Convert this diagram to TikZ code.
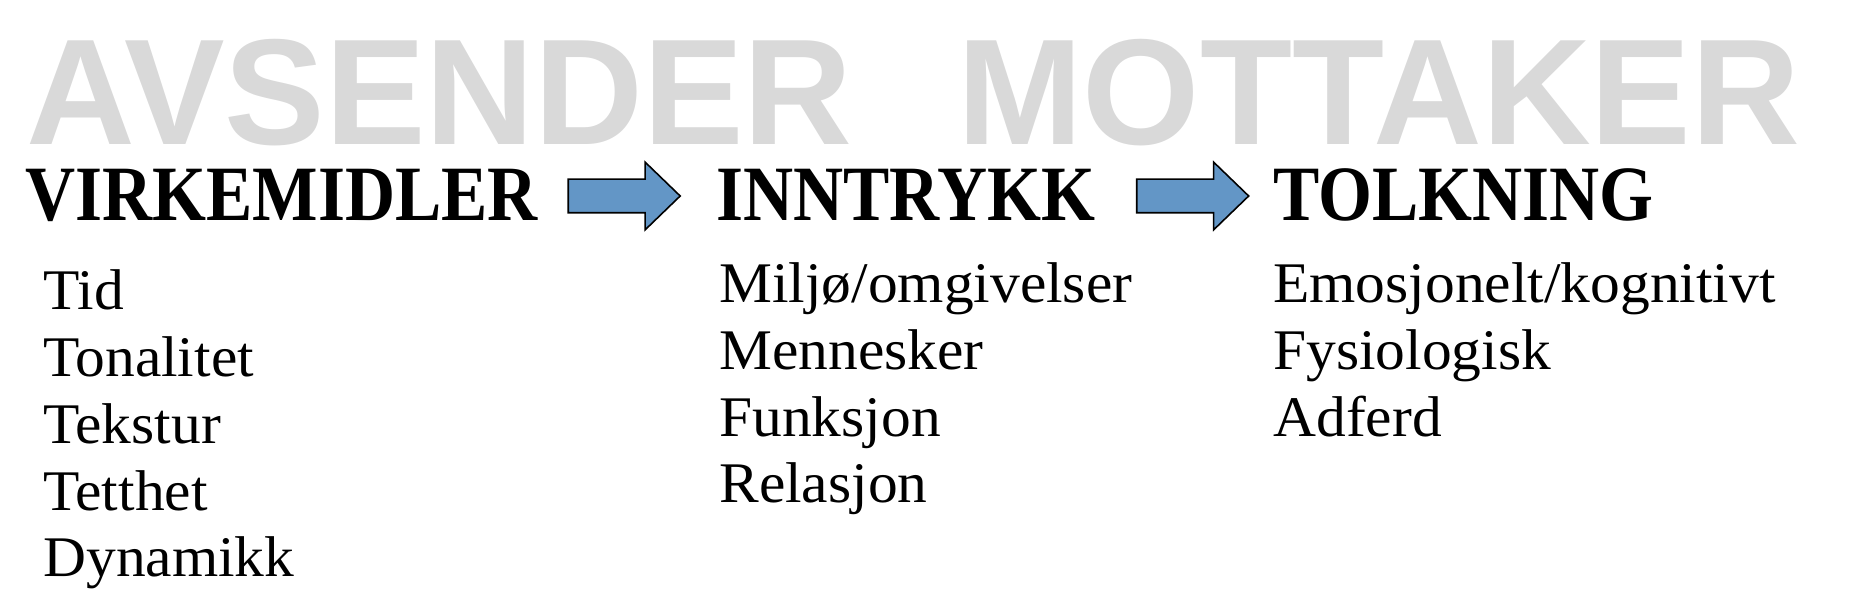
\documentclass[tikz,border=0pt]{standalone}
\usepackage{fontspec}
\usepackage{tikz}
\usepackage{xcolor}
\usetikzlibrary{
    shapes.arrows,
    positioning,
    calc
}
\setmainfont{Liberation Serif}
\newfontfamily\backdropfamily{Liberation Sans}
\newfontfamily\headingfamily[FakeStretch=0.885]{Liberation Serif}
\newfontfamily\itemfamily[FakeStretch=1.035]{Liberation Serif}
\definecolor{backgray}{HTML}{D9D9D9}
\definecolor{arrowblue}{HTML}{6396C6}
\tikzset{
    % Big grey words behind the chain
    backdrop/.style={
        anchor=base west,
        inner sep=0pt,
        text depth=0pt,
        font=\backdropfamily\bfseries\fontsize{85.8}{90}\selectfont,
        text=backgray
    },
    % Stage headings
    heading/.style={
        anchor=base west,
        inner sep=0pt,
        text height=1.04cm,
        text depth=0pt,
        font=\headingfamily\bfseries\fontsize{44.6}{48}\selectfont,
        text=black
    },
    % List entries under each stage
    entry/.style={
        anchor=base west,
        inner sep=0pt,
        font=\itemfamily\fontsize{32.7}{36}\selectfont,
        text=black
    },
    % Block arrow between stages
    stagearrow/.style={
        single arrow,
        draw=black,
        fill=arrowblue,
        line width=0.9pt,
        minimum height=2.24cm,
        inner xsep=0pt,
        inner ysep=0.32cm,
        single arrow head extend=0.34cm,
        single arrow tip angle=88
    }
}
\begin{document}
\begin{tikzpicture}[x=0.02cm, y=-0.02cm]
        \useasboundingbox (0,0) rectangle (1860,614);

        % Backdrop
        \node[backdrop] (avsender) at (26, 145) {AVSENDER};
        \node[backdrop] (mottaker) at (957, 145) {MOTTAKER};

        % Stages
        \node[heading] (virk) at (25, 221) {VIRKEMIDLER};
        \node[heading] (inntrykk) at (716, 221) {INNTRYKK};
        \node[heading] (tolkning) at (1273, 221) {TOLKNING};

        % Arrows between stages
        \node[stagearrow] (arr1) at (615.5, 196) {};
        \node[stagearrow] (arr2) at (1184, 196) {};

        % Lists
        \foreach \txt [count=\i] in {Tid, Tonalitet, Tekstur, Tetthet, Dynamikk} {
            \node[entry] (virk-\i) at (43, {310 + (\i-1)*66.7}) {\txt};
        }
        \foreach \txt [count=\i] in {Miljø/omgivelser, Mennesker, Funksjon, Relasjon} {
            \node[entry] (inntrykk-\i) at (719, {303 + (\i-1)*66.6}) {\txt};
        }
        \foreach \txt [count=\i] in {Emosjonelt/kognitivt, Fysiologisk, Adferd} {
            \node[entry] (tolkning-\i) at (1273, {303 + (\i-1)*66.6}) {\txt};
        }

    \end{tikzpicture}
\end{document}
